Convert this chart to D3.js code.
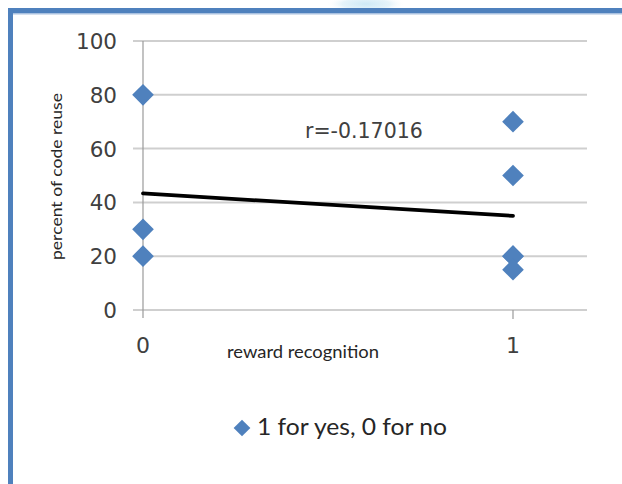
<!DOCTYPE html>
<html>
<head>
<meta charset="utf-8">
<script src="https://cdn.jsdelivr.net/npm/d3@7"></script>
<style>
  html, body { margin: 0; padding: 0; background: #ffffff; }
  svg { display: block; }
</style>
</head>
<body>
<svg id="chart" width="622" height="484"></svg>
<script>
// Reward recognition (1 = yes, 0 = no) vs. percent of code reuse
const recognition = [0, 0, 0, 1, 1, 1, 1, 1];
const codeReuse   = [80, 30, 20, 70, 50, 20, 20, 15];
const yTicks = [0, 20, 40, 60, 80, 100];
const xTicks = [0, 1];
const correlationLabel = "r=-0.17016";
const seriesName = "1 for yes, 0 for no";
const xTitle = "reward recognition";
const yTitle = "percent of code reuse";

const W = 622, H = 484;
const blue = "#4F81BD";
const svg = d3.select("#chart");

// soft glow behind the frame at the top
const defs = svg.append("defs");
const glow = defs.append("radialGradient").attr("id", "glow");
glow.append("stop").attr("offset", "0%").attr("stop-color", "#cfeaf6");
glow.append("stop").attr("offset", "60%").attr("stop-color", "#e6f4fa");
glow.append("stop").attr("offset", "100%").attr("stop-color", "#ffffff").attr("stop-opacity", 0);
svg.append("ellipse").attr("cx", 366).attr("cy", 4).attr("rx", 40).attr("ry", 9)
  .attr("fill", "url(#glow)");

// frame (top and left edges)
svg.append("rect").attr("x", 8).attr("y", 8).attr("width", W - 8).attr("height", 5).attr("fill", blue);
svg.append("rect").attr("x", 13).attr("y", 13).attr("width", W - 13).attr("height", 1.5).attr("fill", "#a9c1e0");
svg.append("rect").attr("x", 8).attr("y", 8).attr("width", 5).attr("height", H - 8).attr("fill", blue);

// scales
const x = d3.scaleLinear().domain([0, 1.2]).range([143, 587]);
const y = d3.scaleLinear().domain([0, 100]).range([310, 41]);

// horizontal gridlines (extend left as tick marks)
svg.append("g").selectAll("line").data(yTicks).join("line")
  .attr("x1", x(0) - 10).attr("x2", x.range()[1])
  .attr("y1", d => y(d)).attr("y2", d => y(d))
  .attr("stroke", "#cfcfcf").attr("stroke-width", 2);

// vertical axis line, running down through the x tick at 0
svg.append("line")
  .attr("x1", x(0)).attr("x2", x(0))
  .attr("y1", y(100)).attr("y2", y(0) + 8)
  .attr("stroke", "#9a9a9a").attr("stroke-width", 1.2);

// x tick marks
svg.append("g").selectAll("line").data(xTicks.filter(d => d !== 0)).join("line")
  .attr("x1", d => x(d)).attr("x2", d => x(d))
  .attr("y1", y(0)).attr("y2", y(0) + 9)
  .attr("stroke", "#9a9a9a").attr("stroke-width", 1.2);

// y tick labels
svg.append("g").selectAll("text").data(yTicks).join("text")
  .attr("x", 117).attr("y", d => y(d) + 8)
  .attr("text-anchor", "end")
  .attr("font-family", "DejaVu Sans")
  .attr("font-size", 21.5)
  .attr("fill", "#404040")
  .text(d => d);

// x tick labels
svg.append("g").selectAll("text").data(xTicks).join("text")
  .attr("x", d => x(d)).attr("y", 353)
  .attr("text-anchor", "middle")
  .attr("font-family", "DejaVu Sans")
  .attr("font-size", 22)
  .attr("fill", "#404040")
  .text(d => d);

// axis titles
svg.append("text")
  .attr("x", 227).attr("y", 358)
  .attr("font-family", "Lato")
  .attr("font-size", 17.5)
  .attr("textLength", 152).attr("lengthAdjust", "spacingAndGlyphs")
  .attr("fill", "#262626")
  .text(xTitle);

svg.append("text")
  .attr("transform", "translate(62,260) rotate(-90)")
  .attr("font-family", "Lato")
  .attr("font-size", 15.5)
  .attr("textLength", 167).attr("lengthAdjust", "spacingAndGlyphs")
  .attr("fill", "#262626")
  .text(yTitle);

// least-squares trend line over the observed range
const n = recognition.length;
const mx = d3.mean(recognition), my = d3.mean(codeReuse);
let sxy = 0, sxx = 0;
for (let i = 0; i < n; i++) {
  sxy += (recognition[i] - mx) * (codeReuse[i] - my);
  sxx += (recognition[i] - mx) ** 2;
}
const slope = sxy / sxx, intercept = my - slope * mx;
const [xmin, xmax] = d3.extent(recognition);
svg.append("line")
  .attr("x1", x(xmin)).attr("y1", y(intercept + slope * xmin))
  .attr("x2", x(xmax)).attr("y2", y(intercept + slope * xmax))
  .attr("stroke", "#000").attr("stroke-width", 3.8).attr("stroke-linecap", "round");

// correlation label
svg.append("text")
  .attr("x", 305).attr("y", 138)
  .attr("font-family", "DejaVu Sans")
  .attr("font-size", 20.5)
  .attr("fill", "#404040")
  .text(correlationLabel);

// points: squares rotated into diamonds
const diamond = d3.symbol().type(d3.symbolSquare).size(235);
svg.append("g").selectAll("path").data(recognition.map((r, i) => [r, codeReuse[i]])).join("path")
  .attr("transform", d => `translate(${x(d[0])},${y(d[1])}) rotate(45)`)
  .attr("d", diamond)
  .attr("fill", blue);

// legend
const lg = svg.append("g");
lg.append("path")
  .attr("transform", "translate(242,428) rotate(45)")
  .attr("d", d3.symbol().type(d3.symbolSquare).size(140))
  .attr("fill", blue);
lg.append("text")
  .attr("x", 257).attr("y", 435)
  .attr("font-family", "Lato")
  .attr("font-size", 23)
  .attr("textLength", 190).attr("lengthAdjust", "spacingAndGlyphs")
  .attr("fill", "#262626")
  .text(seriesName);
</script>
</body>
</html>
